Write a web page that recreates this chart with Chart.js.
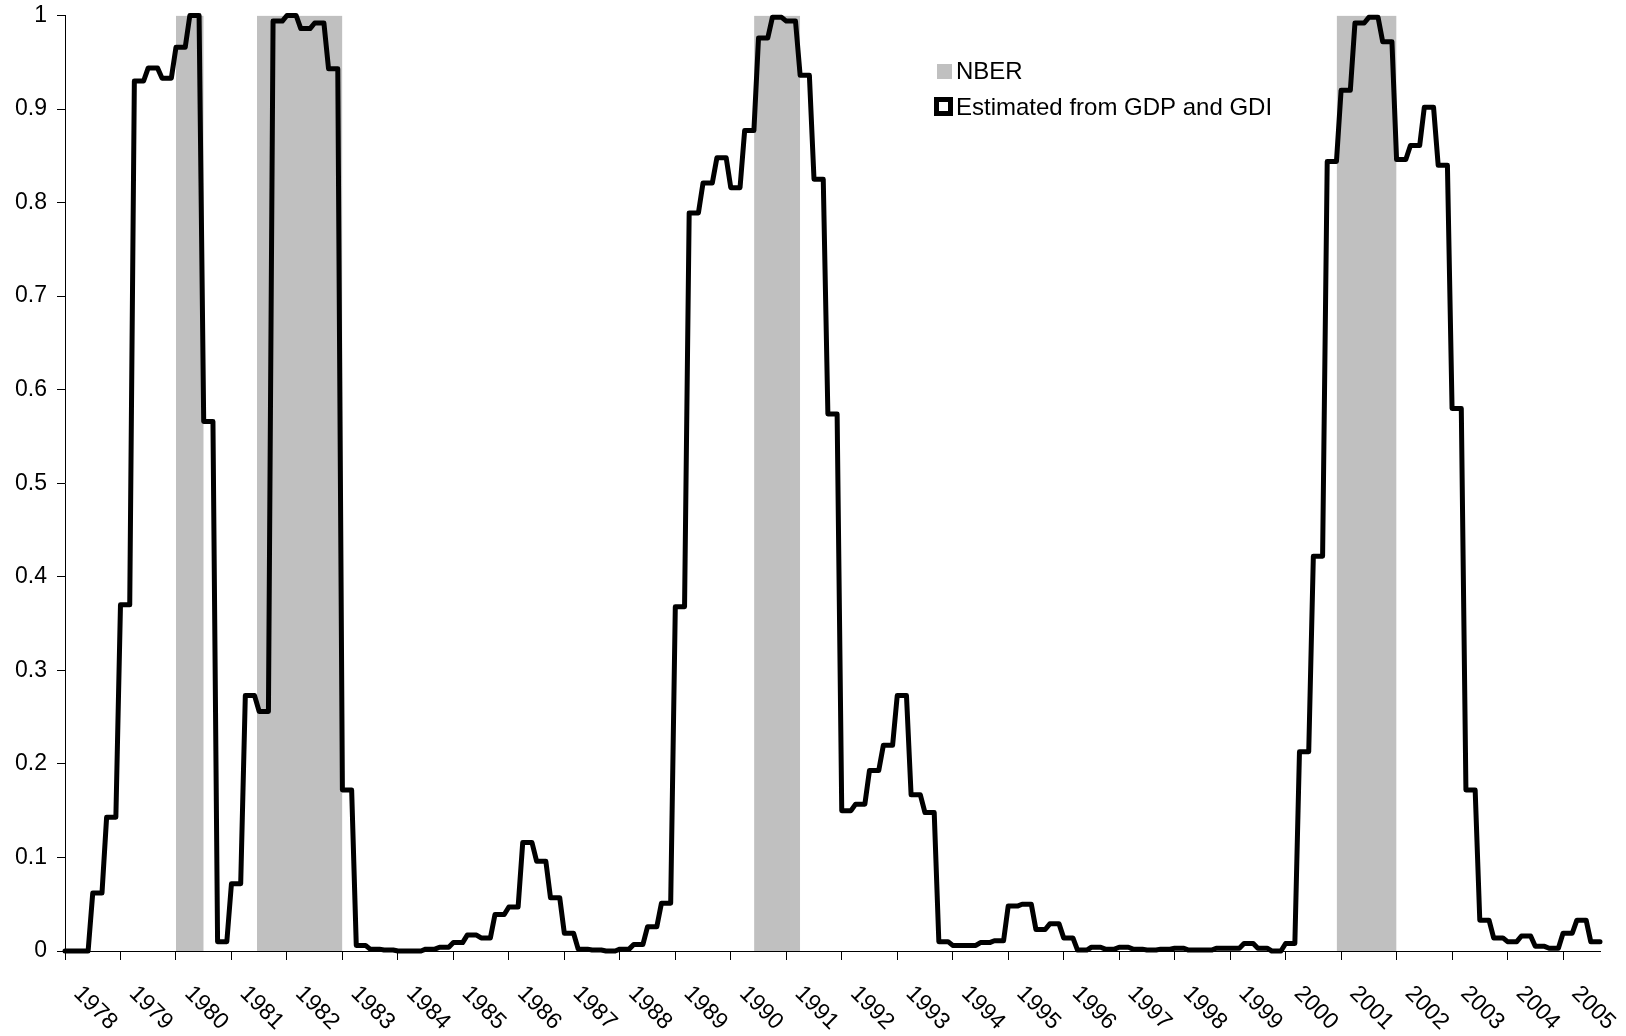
<!DOCTYPE html>
<html>
<head>
<meta charset="utf-8">
<script src="https://cdn.jsdelivr.net/npm/chart.js@4/dist/chart.umd.min.js"></script>
<style>
  html, body { margin: 0; padding: 0; background: #ffffff; }
  canvas { display: block; }
</style>
</head>
<body>
<canvas id="chart" width="1626" height="1036"></canvas>
<script>
// Recession probability, quarterly, starting 1978Q1
const prob1978to1985 = [
  0.000, 0.000, 0.062, 0.143,
  0.370, 0.930, 0.944, 0.933,
  0.966, 1.000, 0.566, 0.010,
  0.072, 0.273, 0.256, 0.994,
  1.000, 0.986, 0.992, 0.943,
  0.172, 0.006, 0.002, 0.001,
  0.000, 0.000, 0.002, 0.004,
  0.009, 0.017, 0.014, 0.039
];
const prob1986to1995 = [
  0.047, 0.116, 0.096, 0.057,
  0.019, 0.002, 0.001, 0.000,
  0.002, 0.007, 0.026, 0.051,
  0.368, 0.789, 0.821, 0.848,
  0.816, 0.877, 0.976, 0.998,
  0.994, 0.936, 0.825, 0.574,
  0.150, 0.157, 0.193, 0.220,
  0.273, 0.167, 0.148, 0.010,
  0.006, 0.006, 0.009, 0.011,
  0.048, 0.050, 0.023, 0.029
];
const prob1996to2005 = [
  0.014, 0.001, 0.004, 0.002,
  0.004, 0.002, 0.001, 0.002,
  0.003, 0.001, 0.001, 0.003,
  0.003, 0.008, 0.003, 0.000,
  0.008, 0.213, 0.422, 0.844,
  0.920, 0.992, 0.998, 0.972,
  0.846, 0.861, 0.902, 0.840,
  0.580, 0.172, 0.033, 0.014,
  0.010, 0.016, 0.005, 0.003,
  0.019, 0.033, 0.010
];

// NBER shaded periods, in decimal years (end exclusive)
const recessionStarts = [1980.00, 1981.46, 1990.42, 2000.92];
const recessionEnds   = [1980.50, 1983.00, 1991.25, 2002.00];

// Axis labels
const yearLabels = ['1978','1979','1980','1981','1982','1983','1984','1985','1986','1987',
  '1988','1989','1990','1991','1992','1993','1994','1995','1996','1997','1998','1999',
  '2000','2001','2002','2003','2004','2005'];
const yTickValues = [0, 0.1, 0.2, 0.3, 0.4, 0.5, 0.6, 0.7, 0.8, 0.9, 1];
const yTickLabels = ['0','0.1','0.2','0.3','0.4','0.5','0.6','0.7','0.8','0.9','1'];

const legendItems = ['NBER', 'Estimated from GDP and GDI'];

const FONT = '"Liberation Sans", Arial, Helvetica, sans-serif';
const firstYear = Number(yearLabels[0]);

// Each quarterly estimate is plotted over its three months
const quarterly = [...prob1978to1985, ...prob1986to1995, ...prob1996to2005];
const monthlyPoints = [];
quarterly.forEach((v, q) => {
  for (let k = 0; k < 3; k++) monthlyPoints.push({ x: firstYear + (3 * q + k) / 12, y: v });
});
const xMax = monthlyPoints[monthlyPoints.length - 1].x;

const shadePoints = [];
recessionStarts.forEach((a, i) => {
  const b = recessionEnds[i];
  shadePoints.push({ x: a, y: 1 }, { x: b, y: 1 }, { x: b, y: null });
});

// Rotated year labels centred in each year interval
const yearLabelPlugin = {
  id: 'yearLabels',
  afterDraw(chart) {
    const ctx = chart.ctx, xs = chart.scales.x;
    ctx.save();
    ctx.font = '23px ' + FONT;
    ctx.fillStyle = '#000';
    ctx.textAlign = 'center';
    ctx.textBaseline = 'middle';
    yearLabels.forEach(l => {
      const px = xs.getPixelForValue(Number(l) + 0.5) + 2.5;
      ctx.save();
      ctx.translate(px, xs.top + 57);
      ctx.rotate(Math.PI / 4);
      ctx.fillText(l, 0, 0);
      ctx.restore();
    });
    ctx.restore();
  }
};

// Legend inside the plot area
const keyLegendPlugin = {
  id: 'keyLegend',
  afterDraw(chart) {
    const ctx = chart.ctx;
    ctx.save();
    ctx.fillStyle = '#C0C0C0';
    ctx.fillRect(937, 64, 15, 15);
    ctx.strokeStyle = '#000';
    ctx.lineWidth = 5;
    ctx.strokeRect(936.5, 99.5, 14, 14);
    ctx.fillStyle = '#000';
    ctx.font = '24px ' + FONT;
    ctx.textAlign = 'left';
    ctx.textBaseline = 'alphabetic';
    ctx.fillText(legendItems[0], 956, 79);
    ctx.fillText(legendItems[1], 956, 115);
    ctx.restore();
  }
};

new Chart(document.getElementById('chart'), {
  data: {
    datasets: [
      {
        type: 'line',
        label: legendItems[1],
        data: monthlyPoints,
        borderColor: '#000',
        borderWidth: 5,
        borderJoinStyle: 'round',
        borderCapStyle: 'round',
        pointRadius: 0,
        tension: 0,
        fill: false,
        clip: false,
        order: 1
      },
      {
        type: 'line',
        label: legendItems[0],
        data: shadePoints,
        borderWidth: 0,
        borderColor: 'rgba(0,0,0,0)',
        backgroundColor: '#C0C0C0',
        pointRadius: 0,
        fill: 'origin',
        spanGaps: false,
        order: 2
      }
    ]
  },
  options: {
    responsive: false,
    animation: false,
    devicePixelRatio: 1,
    layout: { padding: { top: 15.5, right: 26, left: 0, bottom: 0 } },
    plugins: { legend: { display: false }, tooltip: { enabled: false } },
    scales: {
      x: {
        type: 'linear',
        min: firstYear,
        max: xMax,
        afterBuildTicks: s => { s.ticks = yearLabels.map(l => ({ value: Number(l) })); },
        afterFit: s => { s.height = 85; s.paddingLeft = 0; s.paddingRight = 0; },
        ticks: { display: false },
        grid: { drawOnChartArea: false, drawTicks: true, tickLength: 9, color: '#000', lineWidth: 1 },
        border: { display: true, color: '#000', width: 1 }
      },
      y: {
        type: 'linear',
        min: 0,
        max: 1,
        afterBuildTicks: s => { s.ticks = yTickValues.map(v => ({ value: v })); },
        afterFit: s => { s.width = 65; s.paddingTop = 0; s.paddingBottom = 0; },
        ticks: {
          callback: (v, i) => yTickLabels[i],
          font: { family: FONT, size: 23 },
          color: '#000',
          padding: 10
        },
        grid: { drawOnChartArea: false, drawTicks: true, tickLength: 8, color: '#000', lineWidth: 1 },
        border: { display: true, color: '#000', width: 1 }
      }
    }
  },
  plugins: [yearLabelPlugin, keyLegendPlugin]
});
</script>
</body>
</html>
